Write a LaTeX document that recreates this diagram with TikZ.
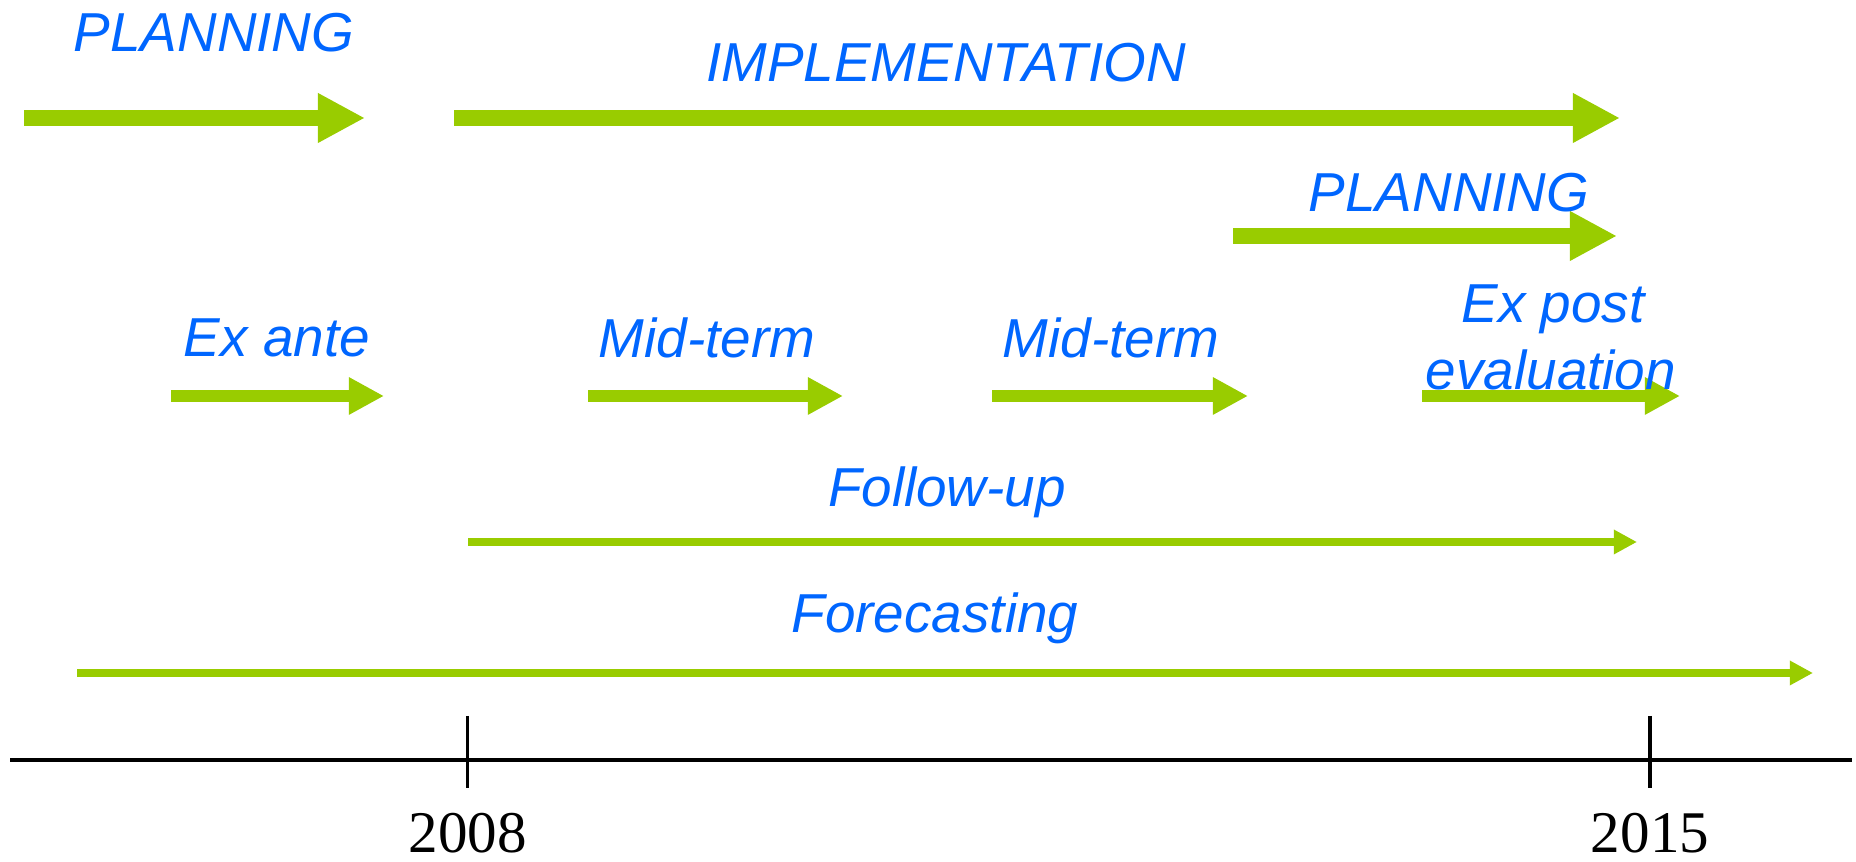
\documentclass[tikz,border=0pt]{standalone}
\usepackage{fontspec}
\setmainfont{Liberation Sans}
\newfontfamily\yearfont{Liberation Serif}
\usepackage{tikz}
\usetikzlibrary{arrows.meta,positioning}
\definecolor{phasegreen}{RGB}{153,204,0}
\definecolor{phaseblue}{RGB}{0,102,255}

\begin{document}
\begin{tikzpicture}[x=0.01cm, y=-0.01cm,
  phase/.style={phasegreen, line width=4.4pt, -{Triangle[length=13.4pt, width=13.2pt]}},
  evalarrow/.style={phasegreen, line width=3.3pt, -{Triangle[length=10pt, width=10pt]}},
  track/.style={phasegreen, line width=2.5pt, -{Triangle[length=6.6pt, width=6.6pt]}},
  phaselabel/.style={text=phaseblue, font=\fontsize{15.6}{18}\selectfont\itshape, anchor=base, inner sep=0pt},
  yearlabel/.style={font=\yearfont\fontsize{16.8}{20}\selectfont, anchor=base, inner sep=0pt}]
  \useasboundingbox (0,0) rectangle (1856,862);
  % Draw the planning and implementation phases
  \draw[phase] (24,118) -- (365,118);
  \draw[phase] (454,118) -- (1620,118);
  \draw[phase] (1233,236) -- (1617,236);
  \node[phaselabel] (plan) at (214,52) {PLANNING};
  \node[phaselabel] (impl) at (946,82) {IMPLEMENTATION};
  \node[phaselabel] (replan) at (1449,212) {PLANNING};
  % Draw the evaluation steps
  \foreach \a/\b in {171/384, 588/843, 992/1248, 1422/1680} {
    \draw[evalarrow] (\a,396) -- (\b,396);
  }
  \node[phaselabel] (exante) at (277,357) {Ex ante};
  \node[phaselabel] (midterm) at (707,358) {Mid-term};
  \node[phaselabel] (midtermb) at (1111,358) {Mid-term};
  \node[phaselabel] (expost) at (1553,323) {Ex post};
  \node[phaselabel] (evaluation) at (1551,390) {evaluation};
  % Draw follow-up and forecasting
  \draw[track] (468,542) -- (1637,542);
  \draw[track] (77,673) -- (1813,673);
  \node[phaselabel] (followup) at (947,507) {Follow-up};
  \node[phaselabel] (forecast) at (935,633) {Forecasting};
  % Draw the time axis with its ticks
  \draw[line width=0.95pt] (10,760) -- (1852,760);
  \foreach \x/\yr in {467.6/2008, 1650/2015} {
    \draw[line width=0.95pt] (\x,716) -- (\x,788);
    \node[yearlabel] (y\yr) at (\x,853) {\yr};
  }
\end{tikzpicture}
\end{document}
